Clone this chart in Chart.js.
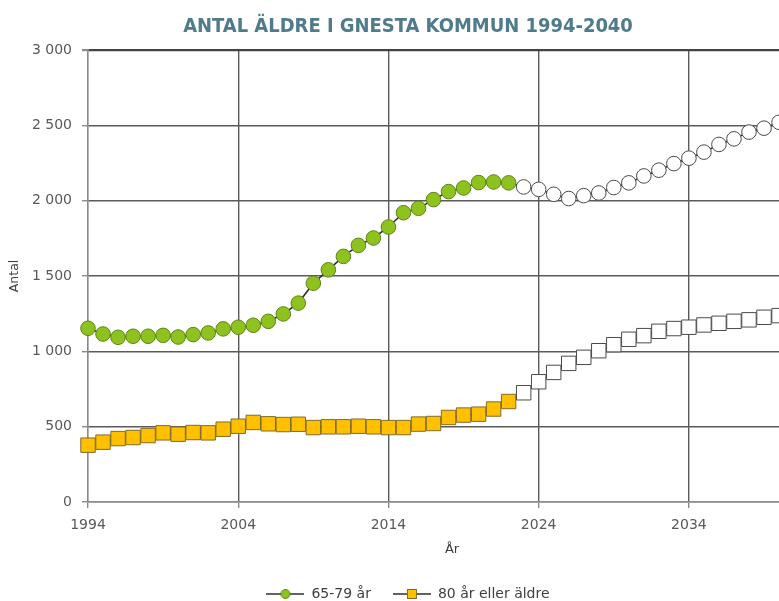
<!DOCTYPE html>
<html>
<head>
<meta charset="utf-8">
<script src="https://cdn.jsdelivr.net/npm/chart.js@4/dist/chart.umd.min.js"></script>
<style>
  html, body { margin: 0; padding: 0; background: #ffffff; overflow: hidden; width: 779px; height: 601px; }
  #wrap { width: 816px; height: 601px; }
</style>
</head>
<body>
<div id="wrap"><canvas id="c" width="816" height="601"></canvas></div>
<script>
// ---- data ----
const years = [1994,1995,1996,1997,1998,1999,2000,2001,2002,2003,2004,2005,2006,2007,2008,2009,2010,2011,2012,2013,2014,2015,2016,2017,2018,2019,2020,2021,2022,2023,2024,2025,2026,2027,2028,2029,2030,2031,2032,2033,2034,2035,2036,2037,2038,2039,2040];
const age65to79 = [1153,1115,1093,1100,1100,1106,1095,1111,1122,1149,1160,1173,1199,1248,1320,1452,1541,1630,1703,1752,1825,1920,1949,2007,2060,2084,2120,2124,2118,2091,2075,2042,2014,2033,2051,2087,2118,2164,2202,2246,2282,2322,2373,2410,2455,2481,2520];
const age80plus = [377,397,421,428,441,459,450,461,459,483,503,528,519,514,516,494,499,499,503,499,494,494,517,521,561,577,583,617,667,725,798,860,920,960,1004,1044,1080,1104,1133,1151,1160,1175,1186,1199,1209,1226,1237];
const lastObservedYear = 2022;
const seriesNames = ['65-79 år', '80 år eller äldre'];
const xTickValues = [1994, 2004, 2014, 2024, 2034];
const yTickStep = 500;
const titleText = 'ANTAL ÄLDRE I GNESTA KOMMUN 1994-2040';
const xTitle = 'År';
const yTitle = 'Antal';

// ---- styles ----
const GREEN = '#8DC21F', GREEN_BORDER = '#5C8514';
const YELLOW = '#FFC000', YELLOW_BORDER = '#7F6B2A';
const OPEN = '#FFFFFF', OPEN_BORDER = '#4A4A4A';
const LINE = '#2E2E2E';
const GRID = '#5A5A5A', AXIS = '#8A8A8A';
// the visible window is cropped: the axis continues a little beyond the last year
const X_AXIS_END = 2042.46;

function fmt(v) {
  if (v >= 1000) return Math.floor(v / 1000) + ' ' + String(v % 1000).padStart(3, '0');
  return String(v);
}

// choose a condensed title font that exists, and size it to the reference width
const titleFont = (function () {
  const m = document.createElement('canvas').getContext('2d');
  const sample = 'ANTAL ÄLDRE 1994-2040 mmmWWiil';
  function w(f) { m.font = f; return m.measureText(sample).width; }
  const cands = [
    { fam: 'Liberation Sans Narrow', weight: 'bold' },
    { fam: 'DejaVu Sans Condensed', weight: 'bold' },
    { fam: 'Roboto Condensed', weight: 'bold' },
    { fam: 'Roboto', weight: '500' }
  ];
  let pick = cands[cands.length - 1];
  for (const c of cands) {
    const a = w(`${c.weight} 40px "${c.fam}", monospace`);
    const b = w(`${c.weight} 40px monospace`);
    if (Math.abs(a - b) > 0.5) { pick = c; break; }
  }
  m.font = `${pick.weight} 100px "${pick.fam}"`;
  const wd = m.measureText(titleText).width;
  const size = Math.min(26, 450 / wd * 100);
  return { family: pick.fam, weight: pick.weight, size: size };
})();

function legendIcon(kind) {
  const c = document.createElement('canvas');
  c.width = 38; c.height = 14;
  const g = c.getContext('2d');
  g.strokeStyle = LINE; g.lineWidth = 1.6;
  g.beginPath(); g.moveTo(0, 7); g.lineTo(38, 7); g.stroke();
  g.lineWidth = 1;
  if (kind === 'circle') {
    g.fillStyle = GREEN; g.strokeStyle = GREEN_BORDER;
    g.beginPath(); g.arc(19, 7, 4.5, 0, Math.PI * 2); g.fill(); g.stroke();
  } else {
    g.fillStyle = YELLOW; g.strokeStyle = YELLOW_BORDER;
    g.fillRect(14.5, 2.5, 9, 9); g.strokeRect(14.5, 2.5, 9, 9);
  }
  return c;
}

const pts1 = years.map((y, i) => ({x: y, y: age65to79[i]}));
const pts2 = years.map((y, i) => ({x: y, y: age80plus[i]}));
const observed = years.map(y => y <= lastObservedYear);

new Chart(document.getElementById('c'), {
  type: 'line',
  data: {
    datasets: [
      {
        label: seriesNames[0],
        data: pts1,
        borderColor: LINE,
        borderWidth: 1.6,
        pointStyle: 'circle',
        pointRadius: 7.3,
        pointBorderWidth: 1,
        pointBackgroundColor: observed.map(o => o ? GREEN : OPEN),
        pointBorderColor: observed.map(o => o ? GREEN_BORDER : OPEN_BORDER),
        clip: false,
        tension: 0
      },
      {
        label: seriesNames[1],
        data: pts2,
        borderColor: LINE,
        borderWidth: 1.6,
        pointStyle: 'rect',
        pointRadius: 10.2,
        pointBorderWidth: 1,
        pointBackgroundColor: observed.map(o => o ? YELLOW : OPEN),
        pointBorderColor: observed.map(o => o ? YELLOW_BORDER : OPEN_BORDER),
        clip: false,
        tension: 0
      }
    ]
  },
  options: {
    responsive: false,
    animation: false,
    devicePixelRatio: 1,
    layout: { autoPadding: false, padding: { left: 0, right: 0, top: 1, bottom: -10 } },
    plugins: {
      tooltip: { enabled: false },
      title: {
        display: true,
        text: titleText,
        color: '#4F7B8C',
        font: titleFont,
        padding: { top: 14, bottom: 11 }
      },
      legend: {
        position: 'bottom',
        labels: {
          usePointStyle: true,
          pointStyleWidth: 38,
          padding: 22,
          color: '#404040',
          font: { family: 'DejaVu Sans', size: 14 },
          generateLabels: (chart) => {
            const base = Chart.defaults.plugins.legend.labels.generateLabels(chart);
            return base.map((it, i) => Object.assign(it, { pointStyle: legendIcon(i === 0 ? 'circle' : 'rect') }));
          }
        }
      }
    },
    scales: {
      x: {
        type: 'linear',
        min: years[0],
        max: X_AXIS_END,
        afterBuildTicks: (s) => { s.ticks = xTickValues.map(v => ({ value: v })); },
        afterFit: (s) => { s.height = 63; s.paddingLeft = 0; s.paddingRight = 0; },
        ticks: {
          autoSkip: false, maxRotation: 0, padding: 9,
          color: '#595959',
          font: { family: 'DejaVu Sans', size: 14 },
          callback: (v) => String(v)
        },
        grid: {
          color: (ctx) => (ctx.tick && ctx.tick.value === years[0]) ? AXIS : GRID,
          lineWidth: 1.4,
          tickLength: 6,
          tickColor: AXIS
        },
        border: { color: AXIS, width: 1.4 },
        title: {
          display: true, text: xTitle, color: '#404040',
          font: { family: 'DejaVu Sans', size: 13 },
          padding: { top: 0, bottom: 8 }
        }
      },
      y: {
        min: 0, max: 3000,
        afterFit: (s) => { s.width = 88; },
        ticks: {
          stepSize: yTickStep, padding: 10,
          color: '#595959',
          font: { family: 'DejaVu Sans', size: 14 },
          callback: (v) => fmt(v)
        },
        grid: {
          color: (ctx) => (ctx.tick && ctx.tick.value === 0) ? AXIS : (ctx.tick && ctx.tick.value === 3000 ? '#444' : GRID),
          lineWidth: (ctx) => (ctx.tick && ctx.tick.value === 3000) ? 2.2 : 1.4,
          tickLength: 6,
          tickColor: AXIS
        },
        border: { color: AXIS, width: 1.4 },
        title: {
          display: true, text: yTitle, color: '#404040',
          font: { family: 'DejaVu Sans', size: 12.5 },
          padding: { top: 7, bottom: 0 }
        }
      }
    }
  }
});
</script>
</body>
</html>
